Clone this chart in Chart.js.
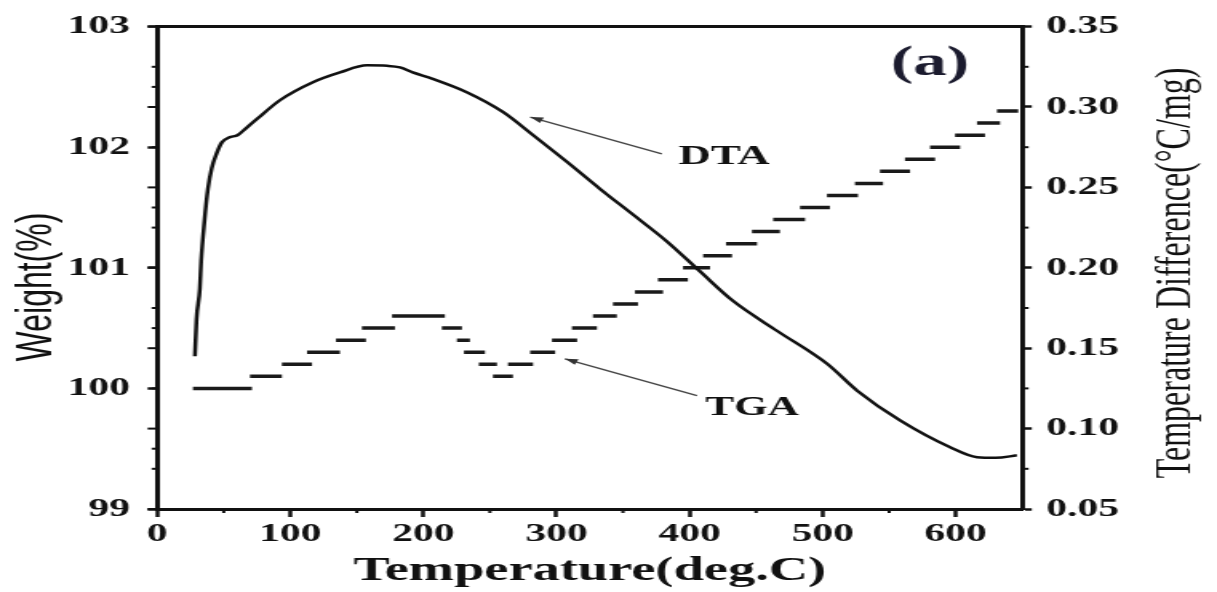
<!DOCTYPE html>
<html><head><meta charset="utf-8">
<script src="https://cdn.jsdelivr.net/npm/chart.js@4.4.1/dist/chart.umd.min.js"></script>
<style>
html,body{margin:0;padding:0;background:#fff;overflow:hidden;width:1217px;height:592px}
#wrap{position:absolute;left:0;top:0;width:761px;height:592px;transform:scaleX(1.59921);transform-origin:0 0}
</style></head><body>
<div id="wrap"><canvas id="c"></canvas></div>
<script>
// ---- data ----
const dtaT = [28.3, 29.5, 32.0, 33.0, 35.5, 38.1, 41.0, 44.6, 48.6, 54.0, 60.6, 67.0, 74.9, 92.2, 117.0, 137.3, 157.6, 172.7, 182.4, 192.0, 207.0, 232.6, 260.0, 282.3, 307.8, 332.5, 357.5, 383.0, 407.8, 432.8, 465.9, 503.4, 526.0, 558.2, 595.8, 616.0, 630.0, 646.0];
const dtaD = [0.145, 0.168, 0.187, 0.204, 0.229, 0.249, 0.262, 0.271, 0.278, 0.281, 0.2826, 0.287, 0.2925, 0.3042, 0.3154, 0.3215, 0.3259, 0.3256, 0.3246, 0.3215, 0.3175, 0.3092, 0.2968, 0.2826, 0.2659, 0.2492, 0.2331, 0.2164, 0.1978, 0.1793, 0.1607, 0.1403, 0.1236, 0.1051, 0.0884, 0.0822, 0.0818, 0.0834];

const tgaStart  = [26.8, 69.7, 93.7, 112.6, 134.3, 153.8, 176.4, 213.9, 225.2, 230.5, 241.7, 252.3, 263.6, 280.2, 296.6, 311.6, 327.4, 342.5, 359.0, 376.3, 395.1, 410.2, 427.4, 446.9, 462.8, 483.0, 503.3, 524.3, 543.1, 561.9, 580.7, 599.5, 616.0, 631.0];
const tgaEnd    = [71.2, 93.7, 116.3, 137.3, 156.8, 178.6, 216.2, 229.0, 235.0, 246.3, 255.3, 267.3, 282.4, 299.0, 315.5, 330.4, 345.4, 361.3, 380.1, 398.8, 415.4, 431.9, 450.7, 467.9, 486.8, 505.5, 526.6, 545.4, 565.7, 584.5, 603.3, 622.0, 633.3, 647.0];
const tgaWeight = [100.0, 100.1, 100.2, 100.3, 100.4, 100.5, 100.6, 100.5, 100.4, 100.3, 100.2, 100.1, 100.2, 100.3, 100.4, 100.5, 100.6, 100.7, 100.8, 100.9, 101.0, 101.1, 101.2, 101.3, 101.4, 101.5, 101.6, 101.7, 101.8, 101.9, 102.0, 102.1, 102.2, 102.3];

const xTicks = [0, 100, 200, 300, 400, 500, 600];
const xMinor = [50, 150, 250, 350, 450, 550];
const weightTicks = [99, 100, 101, 102, 103];
const weightMinor = [99.5, 100.5, 101.5, 102.5];
const diffTicks = [0.05, 0.10, 0.15, 0.20, 0.25, 0.30, 0.35];
const diffMinor = [0.075, 0.125, 0.175, 0.225, 0.275, 0.325];

// ---- styles ----
const INK = '#111';
const SERIF = '"Liberation Serif", "Times New Roman", serif';
const SANS = '"Liberation Sans", Arial, sans-serif';

const tgaPoints = [];
tgaStart.forEach((s, i) => {
  tgaPoints.push({x: s, y: tgaWeight[i]}, {x: tgaEnd[i], y: tgaWeight[i]}, {x: tgaEnd[i], y: null});
});

const notes = [
  {text: '(a)', x: 580.7, y: 102.69, size: 42},
  {text: 'DTA', x: 426, y: 101.92, size: 28},
  {text: 'TGA', x: 446.9, y: 99.84, size: 27}
];
const arrows = [
  {from: [379.2, 101.944], to: [280.3, 102.25]},
  {from: [405.6, 99.94], to: [306.4, 100.245]}
];

const extras = {
  id: 'extras',
  afterDraw(chart) {
    const {ctx, chartArea: a, scales: {x, y, y2}} = chart;
    ctx.save();
    ctx.strokeStyle = INK; ctx.fillStyle = INK; ctx.lineWidth = 2;
    const seg = (x1, y1, x2, y2_) => { ctx.beginPath(); ctx.moveTo(x1, y1); ctx.lineTo(x2, y2_); ctx.stroke(); };
    // minor ticks
    xMinor.forEach(v => { const p = x.getPixelForValue(v); seg(p, a.bottom, p, a.bottom + 4); });
    weightMinor.forEach(v => { const p = y.getPixelForValue(v); seg(a.left - 3.5, p, a.left, p); });
    diffTicks.forEach(v => { const p = y2.getPixelForValue(v); seg(a.left - 6, p, a.left, p); });
    diffMinor.forEach(v => { const p = y2.getPixelForValue(v); seg(a.left - 3.5, p, a.left, p); seg(a.right, p, a.right + 4, p); });
    // arrows
    ctx.strokeStyle = '#444'; ctx.fillStyle = '#333'; ctx.lineWidth = 1.3;
    arrows.forEach(ar => {
      const x1 = x.getPixelForValue(ar.from[0]), y1 = y.getPixelForValue(ar.from[1]);
      const x2 = x.getPixelForValue(ar.to[0]), y2p = y.getPixelForValue(ar.to[1]);
      seg(x1, y1, x2, y2p);
      const ang = Math.atan2(y2p - y1, x2 - x1), L = 8, W = 3;
      ctx.beginPath();
      ctx.moveTo(x2, y2p);
      ctx.lineTo(x2 - L * Math.cos(ang) + W * Math.sin(ang), y2p - L * Math.sin(ang) - W * Math.cos(ang));
      ctx.lineTo(x2 - L * Math.cos(ang) - W * Math.sin(ang), y2p - L * Math.sin(ang) + W * Math.cos(ang));
      ctx.closePath(); ctx.fill();
    });
    // notes
    ctx.textAlign = 'center'; ctx.textBaseline = 'middle';
    notes.forEach(n => {
      ctx.fillStyle = n.text === '(a)' ? '#1b1b2e' : INK;
      ctx.font = `bold ${n.size}px ${SERIF}`;
      ctx.fillText(n.text, x.getPixelForValue(n.x), y.getPixelForValue(n.y));
    });
    // axis titles (both read bottom-to-top)
    ctx.fillStyle = INK;
    ctx.save();
    ctx.translate(23, 287); ctx.rotate(-Math.PI / 2);
    ctx.font = `32px ${SANS}`;
    ctx.fillText('Weight(%)', 0, 0);
    ctx.restore();
    ctx.save();
    ctx.translate(736, 273); ctx.rotate(-Math.PI / 2);
    ctx.font = `32px ${SERIF}`;
    ctx.fillText('Temperature Difference(\u00B0C/mg)', 0, 0);
    ctx.restore();
    ctx.restore();
  }
};

const tickFont = {family: SERIF, size: 26, weight: 'bold'};

new Chart(document.getElementById('c'), {
  type: 'line',
  data: {
    datasets: [
      {label: 'DTA', data: dtaT.map((t, i) => ({x: t, y: dtaD[i]})), yAxisID: 'y2',
       borderColor: INK, borderWidth: 2.5, pointRadius: 0, tension: 0.4, cubicInterpolationMode: 'monotone'},
      {label: 'TGA', data: tgaPoints, yAxisID: 'y', borderColor: '#1a1a1a', borderWidth: 3.5,
       pointRadius: 0, spanGaps: false, tension: 0, borderCapStyle: 'butt'}
    ]
  },
  options: {
    animation: false, responsive: true, maintainAspectRatio: false, events: [],
    layout: {padding: 0},
    plugins: {legend: {display: false}, tooltip: {enabled: false}},
    scales: {
      x: {type: 'linear', position: 'bottom', min: 0, max: 650,
          afterBuildTicks: s => { s.ticks = xTicks.map(v => ({value: v})); },
          afterFit: s => { s.height = 83; },
          ticks: {font: tickFont, color: INK, padding: 2, maxRotation: 0, autoSkip: false},
          grid: {drawOnChartArea: false, tickLength: 8, tickWidth: 2.5, tickColor: INK},
          border: {color: INK, width: 3},
          title: {display: true, text: 'Temperature(deg.C)', color: INK,
                  font: {family: SERIF, size: 34, weight: 'bold'}, padding: {top: 0, bottom: 0}}},
      xTop: {type: 'linear', position: 'top', min: 0, max: 650,
          afterFit: s => { s.height = 24; },
          ticks: {display: false}, grid: {display: false, drawTicks: false},
          border: {color: INK, width: 3}},
      y: {type: 'linear', position: 'left', min: 99, max: 103,
          afterBuildTicks: s => { s.ticks = weightTicks.map(v => ({value: v})); },
          afterFit: s => { s.width = 98.3; },
          ticks: {font: tickFont, color: INK, padding: 11, callback: v => String(v)},
          grid: {drawOnChartArea: false, tickLength: 6, tickWidth: 2.5, tickColor: INK},
          border: {color: INK, width: 3}},
      y2: {type: 'linear', position: 'right', min: 0.05, max: 0.35,
          afterBuildTicks: s => { s.ticks = diffTicks.map(v => ({value: v})); },
          afterFit: s => { s.width = 121.8; },
          ticks: {font: tickFont, color: INK, padding: 9, callback: v => Number(v).toFixed(2)},
          grid: {drawOnChartArea: false, tickLength: 6, tickWidth: 2.5, tickColor: INK},
          border: {color: INK, width: 3}}
    }
  },
  plugins: [extras]
});
</script>
</body></html>
